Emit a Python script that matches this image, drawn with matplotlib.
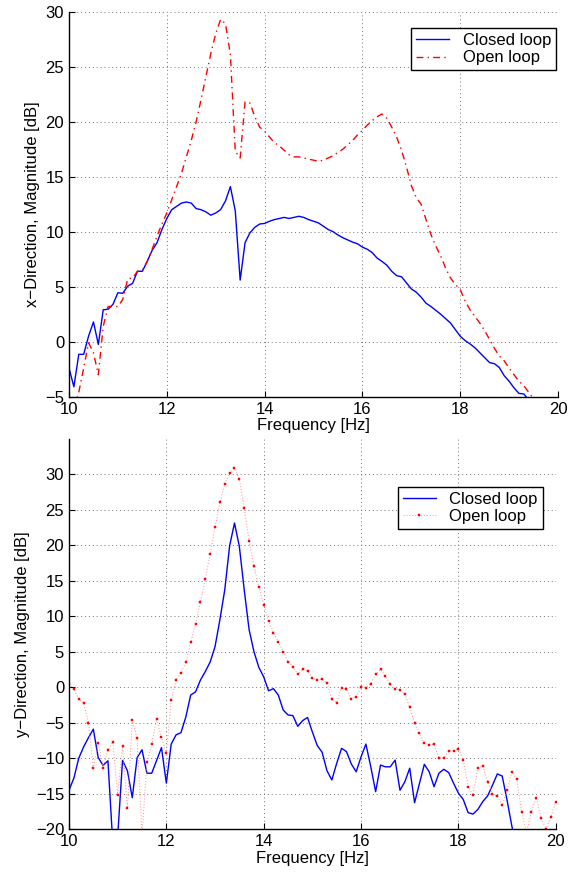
import numpy as np
import matplotlib
matplotlib.use("Agg")
import matplotlib.pyplot as plt

plt.rcParams['font.family'] = ['Liberation Sans', 'DejaVu Sans']
plt.rcParams['font.size'] = 12

# Frequency grid (Hz), 0.1 Hz steps
freq = np.round(np.arange(100, 201) / 10.0, 1)

# ---- x-direction ----
x_closed = [-2.4, -4.1, -1.15, -1.15, 0.5, 1.8, -0.25, 2.9, 2.95, 3.4,
            4.45, 4.4, 5.05, 5.3, 6.4, 6.4, 7.3, 8.3, 9.0, 10.2,
            11.2, 12.0, 12.3, 12.6, 12.7, 12.6, 12.1, 12.0, 11.8, 11.5,
            11.7, 12.0, 12.8, 14.1, 11.9, 5.6, 9.0, 9.9, 10.4, 10.7,
            10.75, 10.95, 11.1, 11.2, 11.3, 11.2, 11.3, 11.4, 11.3, 11.1,
            10.95, 10.8, 10.5, 10.2, 10.0, 9.7, 9.45, 9.25, 9.05, 8.9,
            8.6, 8.4, 8.1, 7.6, 7.3, 6.95, 6.4, 6.0, 5.9, 5.35,
            4.8, 4.5, 4.05, 3.5, 3.2, 2.85, 2.5, 2.1, 1.7, 1.1,
            0.5, 0.1, -0.2, -0.55, -1.0, -1.45, -1.9, -2.0, -2.35, -3.1,
            -3.6, -4.2, -4.7, -4.75, -5.3]
x_open = [-7.5, -6.0, -4.6, -2.4, -0.1, -1.0, -3.0, 1.4, 3.2, 3.2,
          3.2, 3.85, 5.7, 5.8, 6.4, 6.5, 7.3, 8.4, 9.6, 10.7,
          11.7, 12.9, 14.1, 15.3, 16.8, 18.3, 20.0, 22.0, 24.1, 26.2,
          28.0, 29.3, 28.9, 26.1, 17.3, 16.7, 21.8, 21.7, 20.45, 19.5,
          19.15, 18.6, 18.1, 17.8, 17.4, 17.0, 16.8, 16.8, 16.7, 16.6,
          16.5, 16.4, 16.5, 16.7, 16.9, 17.2, 17.5, 17.9, 18.3, 18.8,
          19.2, 19.7, 20.1, 20.45, 20.7, 20.3, 19.5, 18.6, 17.4, 15.9,
          14.2, 13.1, 12.5, 11.1, 9.75, 8.7, 7.8, 6.7, 5.8, 5.2,
          4.75, 3.7, 2.9, 2.3, 1.7, 1.0, 0.2, -0.6, -1.3, -1.75,
          -2.4, -3.0, -3.6, -4.0, -4.6, -5.2]

# ---- y-direction ----
y_closed = [-14.5, -12.8, -10.0, -8.4, -7.1, -5.9, -9.9, -11.0, -10.35, -22.0,
            -21.0, -10.3, -11.75, -15.55, -9.9, -8.8, -12.1, -12.1, -10.3, -8.5,
            -13.5, -8.0, -6.7, -6.4, -4.2, -1.1, -0.65, 1.0, 2.2, 3.55,
            5.7, 9.5, 13.7, 19.9, 23.1, 19.8, 13.7, 8.1, 5.0, 2.8,
            1.45, -0.5, -0.2, -1.1, -3.2, -3.9, -4.0, -5.5, -4.7, -4.25,
            -6.3, -8.2, -9.15, -11.75, -13.05, -10.7, -8.6, -9.05, -10.8, -11.9,
            -9.8, -8.0, -11.2, -14.7, -10.95, -11.2, -11.2, -10.25, -14.5, -13.3,
            -11.4, -16.25, -13.55, -10.85, -11.9, -14.0, -12.1, -11.55, -12.0, -13.5,
            -14.9, -15.8, -17.65, -17.85, -17.2, -16.1, -15.3, -13.8, -12.2, -12.5,
            -15.9, -19.6, -23.0]
y_open = [0.5, -0.2, -1.7, -2.2, -5.0, -11.4, -7.9, -11.3, -8.85, -7.7,
          -15.1, -8.3, -17.0, -4.6, -7.2, -21.0, -10.5, -8.05, -4.5, -7.05,
          -9.3, -1.8, 1.0, 2.05, 3.5, 6.3, 8.9, 12.0, 15.3, 18.7,
          22.5, 26.0, 28.6, 30.2, 30.8, 29.3, 25.2, 20.6, 17.0, 14.1,
          11.6, 9.3, 7.7, 6.4, 5.0, 3.6, 2.9, 1.8, 2.5, 2.3,
          1.35, 1.0, 1.1, 0.6, -1.7, -2.15, -0.1, -0.3, -1.6, -1.35,
          0.05, -0.05, 0.5, 1.8, 2.5, 1.6, 0.4, -0.3, -0.4, -0.9,
          -2.85, -5.0, -6.5, -7.9, -8.1, -8.05, -10.0, -10.0, -9.0, -8.95,
          -8.7, -10.25, -14.0, -15.2, -11.3, -11.1, -13.3, -15.0, -15.3, -16.6,
          -14.5, -11.9, -12.95, -17.5, -20.5, -17.5, -15.55, -18.4, -20.0, -18.2,
          -16.1]

xticks = [10, 12, 14, 16, 18, 20]
top_yticks = [-5, 0, 5, 10, 15, 20, 25, 30]
bot_yticks = [-20, -15, -10, -5, 0, 5, 10, 15, 20, 25, 30]
legend_labels = ['Closed loop', 'Open loop']

fig = plt.figure(figsize=(5.74, 8.73), dpi=100)
ax1 = fig.add_axes([0.1202, 0.5456, 0.852, 0.441])
ax2 = fig.add_axes([0.1202, 0.050, 0.848, 0.4477])


def style(ax, yticks, ylim, ylabel):
    ax.set_xlim(10, 20)
    ax.set_ylim(*ylim)
    ax.set_xticks(xticks)
    ax.set_yticks(yticks)
    ax.grid(True, linestyle=(0, (1, 3)), color='0.45', linewidth=0.7)
    ax.set_axisbelow(True)
    for s in ['top', 'right']:
        ax.spines[s].set_visible(False)
    for s in ['left', 'bottom']:
        ax.spines[s].set_linewidth(1.0)
        ax.spines[s].set_color('black')
    ax.tick_params(direction='in', length=4, width=0.8, labelsize=12)
    ax.set_xlabel('Frequency [Hz]', fontsize=12, labelpad=1)
    ax.set_ylabel(ylabel, fontsize=12)


ax1.plot(freq[:len(x_closed)], x_closed, color='blue', linewidth=1.0, label=legend_labels[0])
ax1.plot(freq[:len(x_open)], x_open, color='red', linewidth=1.0,
         linestyle=(0, (5, 3, 1, 3)), label=legend_labels[1])
style(ax1, top_yticks, (-5, 30), 'x\u2212Direction, Magnitude [dB]')
leg1 = ax1.legend(loc='upper right', bbox_to_anchor=(0.996, 0.958), fancybox=False,
                  framealpha=1, edgecolor='black', fontsize=12, handlelength=2.0,
                  handletextpad=0.8, borderpad=0.3, labelspacing=0.15, borderaxespad=0)
leg1.get_frame().set_linewidth(1.0)

ax2.plot(freq[:len(y_closed)], y_closed, color='blue', linewidth=1.0, label=legend_labels[0])
ax2.plot(freq[:len(y_open)], y_open, color='#ff8c8c', linewidth=0.7, linestyle=(0, (1, 2)),
         marker='s', markersize=1.8, markerfacecolor='red', markeredgecolor='red',
         markeredgewidth=0.3, label=legend_labels[1])
style(ax2, bot_yticks, (-20, 35), 'y\u2212Direction, Magnitude [dB]')
leg2 = ax2.legend(loc='upper right', bbox_to_anchor=(0.973, 0.877), fancybox=False,
                  framealpha=1, edgecolor='black', fontsize=12, handlelength=2.0,
                  handletextpad=0.8, borderpad=0.3, labelspacing=0.15, borderaxespad=0,
                  numpoints=1)
leg2.get_frame().set_linewidth(1.0)

fig.savefig('out.png', dpi=100)
